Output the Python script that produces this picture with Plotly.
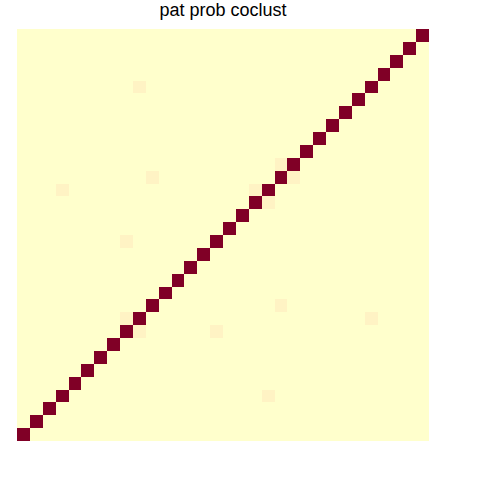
import numpy as np
import plotly.graph_objects as go

n_patients = 32
diag_value = 1.0
base_value = 0.0
# symmetric off-diagonal co-clustering probabilities (i, j, value)
pair_i = [9, 10, 3, 8, 20, 18, 8, 15]
pair_j = [27, 20, 19, 15, 21, 19, 9, 8]
pair_val = [0.1, 0.1, 0.1, 0.1, 0.1, 0.1, 0.1, 0.1]

z = np.full((n_patients, n_patients), base_value)
for k in range(n_patients):
    z[k, k] = diag_value
for a, b, v in zip(pair_i, pair_j, pair_val):
    z[a, b] = v
    z[b, a] = v

colorscale = [[0.0, "#FFFFCC"], [0.1, "#FFF3C4"], [1.0, "#800026"]]

fig = go.Figure(go.Heatmap(
    z=z, x=list(range(n_patients)), y=list(range(n_patients)),
    colorscale=colorscale, zmin=0, zmax=1, showscale=False, hoverinfo="skip",
))
fig.update_layout(
    width=500, height=500,
    margin=dict(l=17, r=71, t=29, b=59),
    paper_bgcolor="white", plot_bgcolor="white",
    title=dict(text="pat prob coclust", x=0.5, xref="paper", xanchor="center",
               y=1 - 10 / 500, yref="container", yanchor="middle",
               font=dict(family="Liberation Sans, Arial", size=18, color="black")),
    xaxis=dict(visible=False, range=[-0.5, n_patients - 0.5]),
    yaxis=dict(visible=False, range=[-0.5, n_patients - 0.5]),
)
fig.write_html("out.html", config={"displayModeBar": False},
               post_script="document.body.style.margin='0px';")
